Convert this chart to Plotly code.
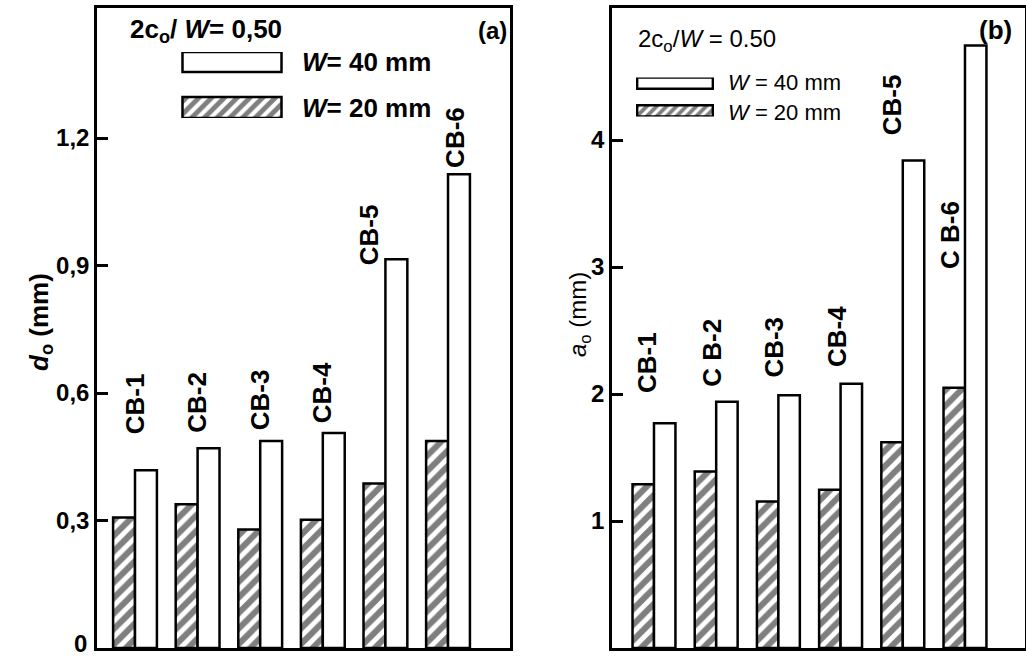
import numpy as np
import plotly.graph_objects as go

# --- data -------------------------------------------------------------
categories = ["CB-1", "CB-2", "CB-3", "CB-4", "CB-5", "CB-6"]
labels_b = ["CB-1", "C B-2", "CB-3", "CB-4", "CB-5", "C B-6"]

# panel (a): d_o in mm
d0_w40 = [0.418, 0.470, 0.487, 0.506, 0.915, 1.115]
d0_w20 = [0.307, 0.338, 0.279, 0.302, 0.387, 0.487]

# panel (b): a_o in mm
a0_w40 = [1.77, 1.94, 1.99, 2.08, 3.84, 4.745]
a0_w20 = [1.29, 1.39, 1.153, 1.247, 1.62, 2.05]

# the "0" of panel (a) is written separately so it stays inside the page
ticks_a = [0.3, 0.6, 0.9, 1.2]
ticktext_a = ["0,3", "0,6", "0,9", "1,2"]
ticks_b = [1, 2, 3, 4]
ticktext_b = ["1", "2", "3", "4"]

# --- layout helpers ---------------------------------------------------
W, H = 1026, 657
def px(x):
    return x / W
def py(y):
    return 1 - y / H

FONT = "Liberation Sans, Arial, sans-serif"
BLACK = "#000000"
LW = 2.5

xpos = np.arange(1, len(categories) + 1)

hatch = dict(shape="/", fgcolor=BLACK, bgcolor="white", size=11, solidity=0.55)

fig = go.Figure()

def add_panel(xa, ya, w20, w40, bw):
    fig.add_trace(go.Bar(
        x=xpos, y=w20, width=bw, offset=-bw, xaxis=xa, yaxis=ya,
        marker=dict(color="white", pattern=hatch, line=dict(color=BLACK, width=LW)),
        showlegend=False, hoverinfo="skip"))
    fig.add_trace(go.Bar(
        x=xpos, y=w40, width=bw, offset=0, xaxis=xa, yaxis=ya,
        marker=dict(color="white", line=dict(color=BLACK, width=LW)),
        showlegend=False, hoverinfo="skip"))

add_panel("x", "y", d0_w20, d0_w40, 0.35)
add_panel("x2", "y2", a0_w20, a0_w40, 0.345)

# legend keys drawn as small horizontal bars on their own axes
def add_key(xa, ya, centers, widths, hsize):
    fig.add_trace(go.Bar(
        y=[centers[0]], x=[1], width=[widths[0]], orientation="h", xaxis=xa, yaxis=ya,
        marker=dict(color="white", line=dict(color=BLACK, width=LW)),
        showlegend=False, hoverinfo="skip"))
    fig.add_trace(go.Bar(
        y=[centers[1]], x=[1], width=[widths[1]], orientation="h", xaxis=xa, yaxis=ya,
        marker=dict(color="white", pattern=dict(shape="/", fgcolor=BLACK, bgcolor="white",
                                               size=hsize, solidity=0.55),
                    line=dict(color=BLACK, width=LW)),
        showlegend=False, hoverinfo="skip"))

add_key("x3", "y3", [56, 10.5], [20, 21], 9)
add_key("x4", "y4", [32.5, 5.5], [11, 11], 7)

axis_common = dict(showline=True, linecolor=BLACK, linewidth=LW, mirror=True,
                   showgrid=False, zeroline=False, automargin=False)

tickfont = dict(family=FONT, size=24, color=BLACK, weight="bold")

fig.update_layout(
    width=W, height=H, margin=dict(l=0, r=0, t=0, b=0, autoexpand=False),
    plot_bgcolor="white", paper_bgcolor="white",
    barmode="overlay", showlegend=False,
    xaxis=dict(domain=[px(97), px(510)], range=[0.393, 6.99], showticklabels=False,
               ticks="", anchor="y", **axis_common),
    yaxis=dict(domain=[py(648), py(8)], range=[0, 1.506], tickvals=ticks_a, ticktext=ticktext_a,
               ticks="inside", ticklen=11, tickwidth=LW, tickcolor=BLACK,
               tickfont=tickfont, anchor="x", **axis_common),
    xaxis2=dict(domain=[px(612), px(1025)], range=[0.325, 6.965], showticklabels=False,
                ticks="", anchor="y2", **axis_common),
    yaxis2=dict(domain=[py(648), py(8)], range=[0, 5.04], tickvals=ticks_b, ticktext=ticktext_b,
                ticks="inside", ticklen=11, tickwidth=LW, tickcolor=BLACK,
                tickfont=tickfont, anchor="x2", **axis_common),
    xaxis3=dict(domain=[px(181), px(283)], range=[-0.015, 1.015], visible=False, anchor="y3"),
    yaxis3=dict(domain=[py(118), py(52)], range=[0, 66], visible=False, anchor="x3"),
    xaxis4=dict(domain=[px(636), px(714)], range=[-0.015, 1.015], visible=False, anchor="y4"),
    yaxis4=dict(domain=[py(116.5), py(77.5)], range=[0, 38], visible=False, anchor="x4"),
)

# category labels above the bars (anchor positions in data units)
label_pos_a = [(1.0, 0.497), (2.0, 0.502), (3.0, 0.507), (4.0, 0.525), (4.74, 0.895), (6.11, 1.126)]
label_pos_b = [(0.89, 1.99), (1.93, 2.04), (2.93, 2.11), (3.94, 2.20), (4.83, 4.02), (5.76, 2.97)]

catfont = dict(family=FONT, size=26, color=BLACK, weight="bold")
for txt, (lx, ly) in zip(categories, label_pos_a):
    fig.add_annotation(x=lx, y=ly, xref="x", yref="y", text=txt, textangle=-90,
                       showarrow=False, xanchor="center", yanchor="bottom", font=catfont)
for txt, (lx, ly) in zip(labels_b, label_pos_b):
    fig.add_annotation(x=lx, y=ly, xref="x2", yref="y2", text=txt, textangle=-90,
                       showarrow=False, xanchor="center", yanchor="bottom", font=catfont)

def note(x, y, text, size, xanchor="left", bold=False, angle=0):
    f = dict(family=FONT, size=size, color=BLACK)
    if bold:
        f["weight"] = "bold"
    fig.add_annotation(x=px(x), y=py(y), xref="paper", yref="paper", text=text,
                       showarrow=False, xanchor=xanchor, yanchor="middle",
                       textangle=angle, font=f)

# zero label of panel (a)
note(89, 643, "0", 24, xanchor="right", bold=True)

# panel (a) annotations
note(128, 30, "2c<sub>o</sub>/ <i>W</i>= 0,50", 26, bold=True)
note(300, 62, "<i>W</i>= 40 mm", 26, bold=True)
note(300, 108, "<i>W</i>= 20 mm", 26, bold=True)
note(509, 30, "(a)", 24, xanchor="right", bold=True)
note(40, 322, "<i>d</i><sub>o</sub> (mm)", 26, xanchor="center", bold=True, angle=-90)

# panel (b) annotations
note(636, 40, "2c<sub>o</sub>/<i>W</i> = 0.50", 24)
note(726, 82, "<i>W</i> = 40 mm", 22)
note(726, 112, "<i>W</i> = 20 mm", 22)
note(1014, 30, "(b)", 26, xanchor="right", bold=True)
note(580, 315, "<i>a</i><sub>o</sub> (mm)", 24, xanchor="center", angle=-90)

fig.write_html("out.html")
